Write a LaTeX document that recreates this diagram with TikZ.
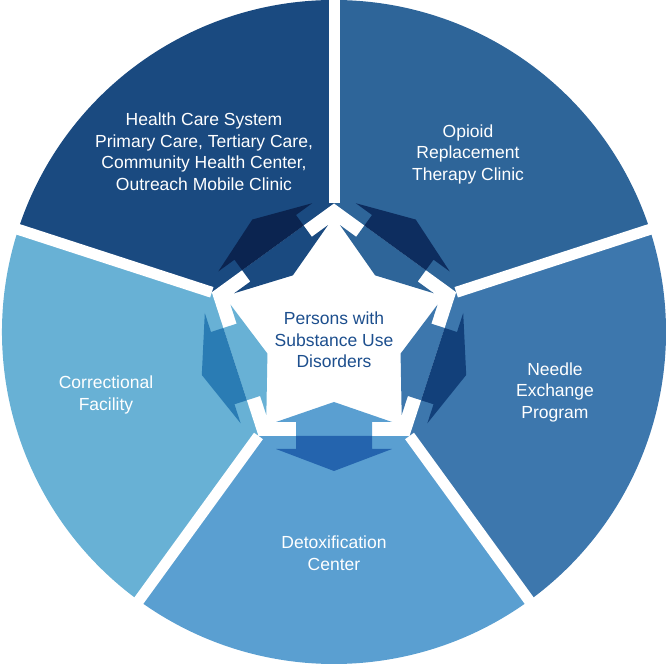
\documentclass[tikz,border=0pt]{standalone}
\usepackage{fontspec}
\setmainfont{Liberation Sans}
\usepackage{xcolor}
\usepackage{tikz}
\usetikzlibrary{calc}

\definecolor{hcsblue}{HTML}{1A4A80}
\definecolor{hcsdark}{HTML}{0B2450}
\definecolor{orcblue}{HTML}{2E6599}
\definecolor{orcdark}{HTML}{0D2D5F}
\definecolor{nepblue}{HTML}{3D77AD}
\definecolor{nepdark}{HTML}{12407A}
\definecolor{dtxblue}{HTML}{5A9FD1}
\definecolor{dtxdark}{HTML}{2464AE}
\definecolor{corblue}{HTML}{68B1D5}
\definecolor{cordark}{HTML}{2A7CB4}
\definecolor{pwtext}{HTML}{1D4F8E}

\begin{document}
\begin{tikzpicture}[
  x=1pt, y=1pt,
  txt/.style={font=\fontsize{17.5}{21.5}\selectfont, align=center, text=white},
  gap/.style={white, line width=11pt},
  arrin/.style={insert path={(70,0) -- (90,58) -- (90,38) -- (104,38) -- (104,-38) -- (90,-38) -- (90,-58) -- cycle}},
  arrout/.style={insert path={(104,38) -- (117,38) -- (117,58) -- (139,0) -- (117,-58) -- (117,-38) -- (104,-38) -- cycle}}
]
  \useasboundingbox (0,0) rectangle (666,666);
  \coordinate (ctr) at (334,334);

  % sectors of the wheel
  \fill[hcsblue] (ctr) -- ++(90:332) arc[start angle=90, end angle=162, radius=332pt] -- cycle;
  \fill[orcblue] (ctr) -- ++(18:332) arc[start angle=18, end angle=90, radius=332pt] -- cycle;
  \fill[nepblue] (ctr) -- ++(-54:332) arc[start angle=-54, end angle=18, radius=332pt] -- cycle;
  \fill[dtxblue] (ctr) -- ++(-126:332) arc[start angle=-126, end angle=-54, radius=332pt] -- cycle;
  \fill[corblue] (ctr) -- ++(162:332) arc[start angle=162, end angle=234, radius=332pt] -- cycle;

  % centre pentagon
  \coordinate (p1) at ($(ctr)+(90:128.5)$);
  \coordinate (p2) at ($(ctr)+(18:128.5)$);
  \coordinate (p3) at ($(ctr)+(-54:128.5)$);
  \coordinate (p4) at ($(ctr)+(-126:128.5)$);
  \coordinate (p5) at ($(ctr)+(162:128.5)$);
  \fill[white] (p1) -- (p2) -- (p3) -- (p4) -- (p5) -- cycle;

  % double arrows
  \begin{scope}[shift={(ctr)}]
    \fill[hcsblue, rotate=126, arrin];
    \fill[hcsdark, rotate=126, arrout];
    \fill[orcblue, rotate=54, arrin];
    \fill[orcdark, rotate=54, arrout];
    \fill[nepblue, rotate=-18, arrin];
    \fill[nepdark, rotate=-18, arrout];
    \fill[dtxblue, rotate=-90, arrin];
    \fill[dtxdark, rotate=-90, arrout];
    \fill[corblue, rotate=198, arrin];
    \fill[cordark, rotate=198, arrout];
  \end{scope}

  % white gaps
  \draw[gap] (p1) -- ++(90:215);
  \draw[gap] (p2) -- ++(18:215);
  \draw[gap] (p3) -- ++(-54:215);
  \draw[gap] (p4) -- ++(-126:215);
  \draw[gap] (p5) -- ++(162:215);

  \node[txt] (health) at (204,514) {Health Care System\\Primary Care, Tertiary Care,\\Community Health Center,\\Outreach Mobile Clinic};
  \node[txt] (opioid) at (468,512) {Opioid\\Replacement\\Therapy Clinic};
  \node[txt] (needle) at (555,274) {Needle\\Exchange\\Program};
  \node[txt] (detox)  at (334,113) {Detoxification\\Center};
  \node[txt] (jail)   at (106,271) {Correctional\\Facility};
  \node[txt, text=pwtext] (persons) at (334,326) {Persons with\\Substance Use\\Disorders};
\end{tikzpicture}
\end{document}
